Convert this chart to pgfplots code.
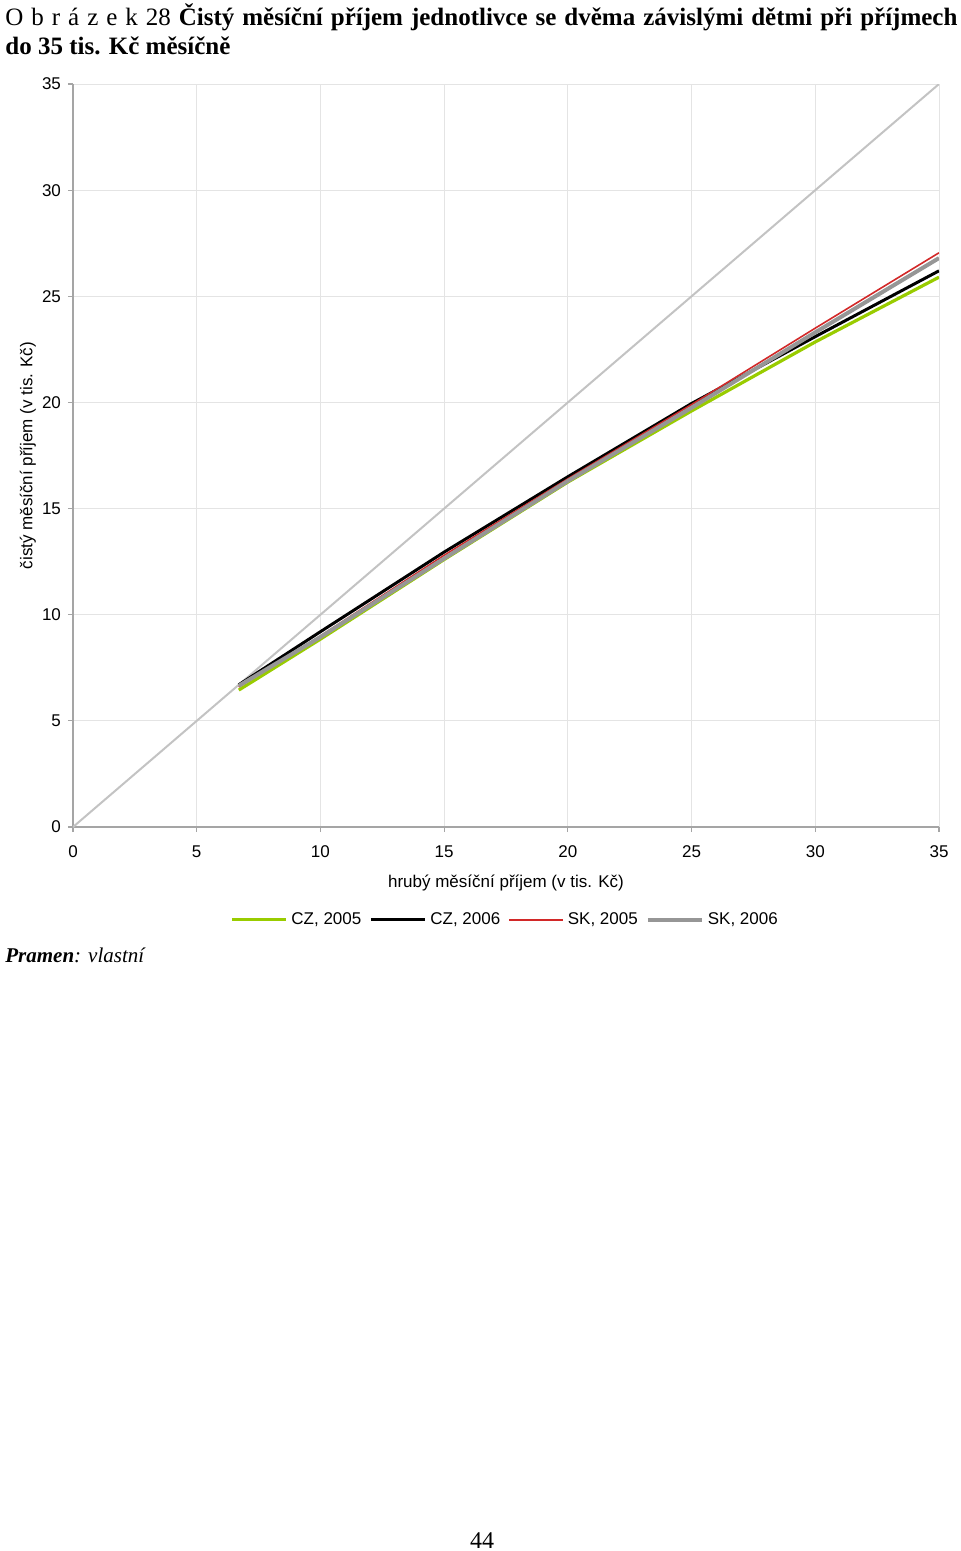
\documentclass[border=0pt]{standalone}
\usepackage{fontspec}
\setmainfont{Liberation Serif}
\newfontfamily\arial{Liberation Sans}
\usepackage{pgfplots}
\pgfplotsset{compat=1.18}
\definecolor{czgreen}{RGB}{153,204,0}
\definecolor{skred}{RGB}{210,40,40}
\definecolor{skgray}{RGB}{150,150,150}
\definecolor{diaggray}{RGB}{195,195,195}
\definecolor{gridgray}{RGB}{228,228,228}
\definecolor{axisgray}{RGB}{165,165,165}
\begin{document}
\begin{tikzpicture}
\path[use as bounding box] (0,0) rectangle (480pt,-775.5pt);
\node[anchor=base west, inner sep=0] at (2.5pt,-13pt) {\fontsize{12.5}{15}\selectfont\makebox[476pt][s]{O b r á z e k 28 \textbf{Čistý měsíční příjem jednotlivce se dvěma závislými dětmi při příjmech}}};
\node[anchor=base west, inner sep=0] at (2.5pt,-27.5pt) {\fontsize{12.5}{15}\selectfont\textbf{do 35 tis. Kč měsíčně}};
\begin{axis}[
  at={(36.5pt,-413.5pt)}, anchor=south west,
  scale only axis, width=433pt, height=371.5pt,
  xmin=0, xmax=35, ymin=0, ymax=35,
  xtick={0,5,...,35}, ytick={0,5,...,35},
  grid=major, major grid style={draw=gridgray, line width=0.5pt},
  axis lines*=left,
  axis line style={-, draw=axisgray, line width=0.6pt},
  tick align=outside, major tick length=2.5pt,
  tick style={draw=axisgray, line width=0.6pt},
  /pgf/number format/assume math mode=true,
  tick label style={font=\arial\fontsize{8.5}{10}\selectfont},
  xticklabel style={yshift=-3.5pt},
  xlabel={hrubý měsíční příjem (v tis. Kč)},
  ylabel={čistý měsíční příjem (v tis. Kč)},
  label style={font=\arial\fontsize{8.5}{10}\selectfont},
  x label style={at={(axis description cs:0.5,-0.0754)}, anchor=center},
  y label style={at={(axis description cs:-0.052,0.5)}, anchor=center},
  legend columns=4,
  legend style={at={(axis description cs:0.5,-0.125)}, anchor=center, draw=none,
    font=\arial\fontsize{8.5}{10}\selectfont, inner sep=0pt,
    /tikz/every even column/.append style={column sep=2pt}},
  legend image code/.code={\draw[#1] (0pt,0pt) -- (27pt,0pt);},
]
\addplot[diaggray, line width=1pt, forget plot] coordinates {(0,0) (35,35)};
\addplot[czgreen, line width=1.6pt] coordinates {(6.7,6.45) (10,8.85) (15,12.6) (20,16.25) (25,19.6) (30,22.85) (35,25.9)};
\addlegendentry{CZ, 2005}
\addplot[black, line width=1.5pt] coordinates {(6.7,6.7) (10,9.2) (15,12.95) (20,16.5) (25,19.95) (30,23.1) (35,26.2)};
\addlegendentry{CZ, 2006}
\addplot[skred, line width=0.8pt] coordinates {(6.7,6.6) (10,9.0) (15,12.8) (20,16.4) (25,19.9) (30,23.5) (35,27.05)};
\addlegendentry{SK, 2005}
\addplot[skgray, line width=2pt] coordinates {(6.7,6.65) (10,8.95) (15,12.65) (20,16.3) (25,19.75) (30,23.3) (35,26.8)};
\addlegendentry{SK, 2006}
\end{axis}
\node[anchor=base west, inner sep=0] at (2.5pt,-481pt) {\fontsize{10.5}{12}\selectfont\textbf{\textit{Pramen}}\textit{: vlastní}};
\node[anchor=base, inner sep=0] at (241pt,-774pt) {\fontsize{12}{14}\selectfont 44};
\end{tikzpicture}
\end{document}
